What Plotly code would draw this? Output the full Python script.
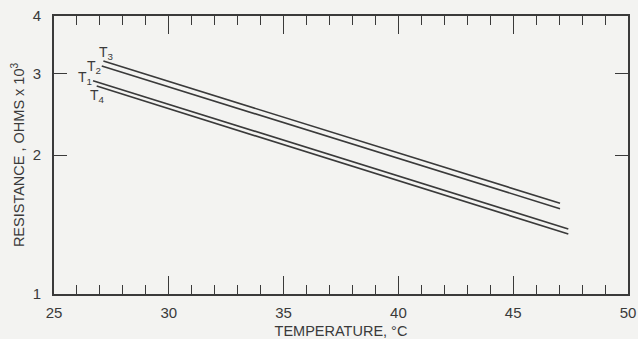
import math
import plotly.graph_objects as go

# Data (temperature °C, resistance in ohms x 10^3)
series_names = ["T3", "T2", "T1", "T4"]
temp_start = [27.15, 27.08, 26.70, 26.86]
temp_end = [47.04, 47.04, 47.40, 47.40]
res_start = [3.195, 3.117, 2.897, 2.820]
res_end = [1.572, 1.530, 1.383, 1.349]

label_text = ["T<sub>3</sub>", "T<sub>2</sub>", "T<sub>1</sub>", "T<sub>4</sub>"]
label_x = [27.30, 26.74, 26.35, 26.90]
label_y = [3.325, 3.10, 2.936, 2.685]

x_ticks = [25, 30, 35, 40, 45, 50]
y_ticks = [1, 2, 3, 4]

bg = "#f3f3f1"
ink = "#3a3a3a"
font = "Liberation Sans"

fig = go.Figure()
for i, name in enumerate(series_names):
    fig.add_trace(go.Scatter(
        x=[temp_start[i], temp_end[i]],
        y=[res_start[i], res_end[i]],
        mode="lines", name=name,
        line=dict(color=ink, width=1.6),
        showlegend=False, hoverinfo="skip",
    ))

for t, lx, ly in zip(label_text, label_x, label_y):
    fig.add_annotation(x=lx, y=math.log10(ly), text=t, showarrow=False,
                       font=dict(family=font, size=14, color=ink),
                       xanchor="center", yanchor="middle")

fig.update_layout(
    width=638, height=339,
    margin=dict(l=54, r=10, t=16, b=45),
    paper_bgcolor=bg, plot_bgcolor=bg,
    font=dict(family=font, size=14, color=ink),
    showlegend=False,
)
fig.update_xaxes(
    range=[25, 50], tickvals=x_ticks, ticks="inside", ticklen=18, tickwidth=1.3,
    tickcolor=ink, showline=True, linecolor=ink, linewidth=1.6, mirror="ticks",
    showgrid=False, zeroline=False, automargin=False,
    minor=dict(dtick=1, tick0=25, ticks="inside", ticklen=9, tickwidth=1.3, tickcolor=ink, showgrid=False),
    title=dict(text="TEMPERATURE, °C", font=dict(size=14.5), standoff=6),
    tickfont=dict(size=15), ticklabelstandoff=4,
)
fig.update_yaxes(
    type="log", range=[0, math.log10(4)], tickvals=y_ticks, ticktext=[str(v) for v in y_ticks],
    ticks="inside", ticklen=13, tickwidth=1.3, tickcolor=ink,
    showline=True, linecolor=ink, linewidth=1.6, mirror="ticks",
    showgrid=False, zeroline=False, automargin=False,
    title=dict(text="RESISTANCE , OHMS x 10<sup>3</sup>", font=dict(size=14.5), standoff=5),
    tickfont=dict(size=15), ticklabelstandoff=8,
)

fig.write_html(
    "out.html",
    config={"displayModeBar": False},
    post_script="document.body.style.margin='0';document.body.style.background='%s';" % bg,
)
